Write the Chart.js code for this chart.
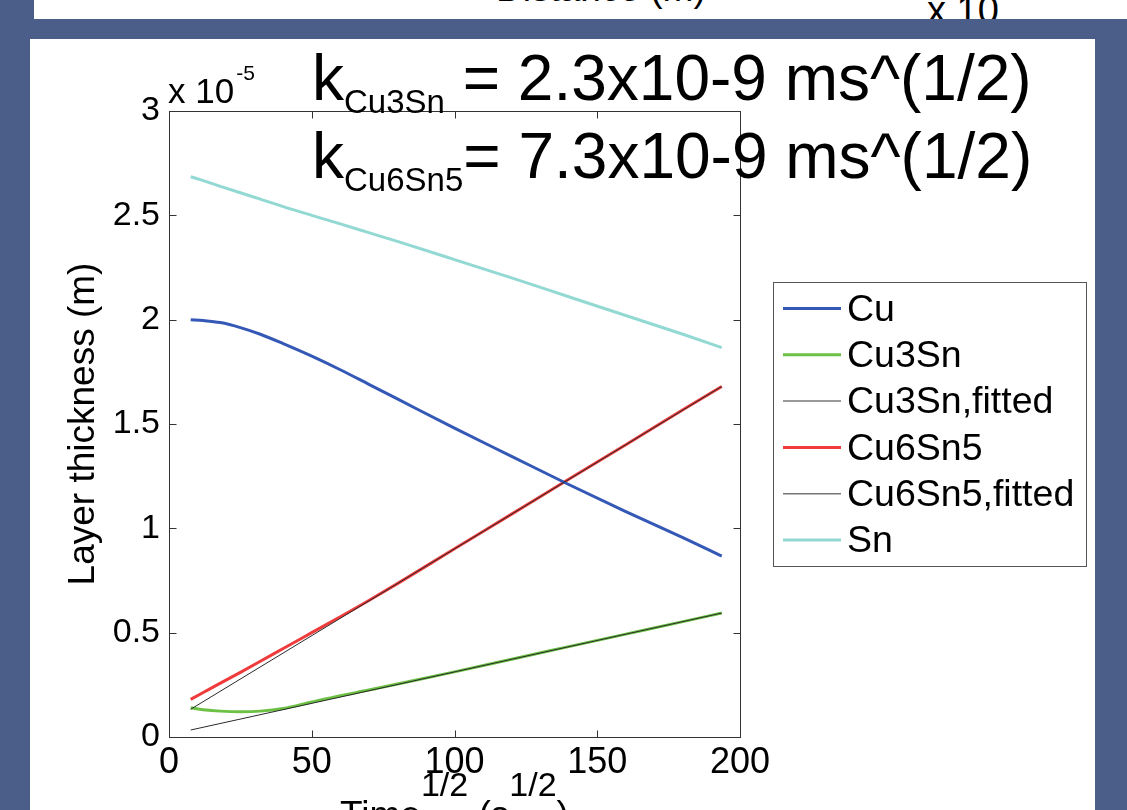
<!DOCTYPE html>
<html>
<head>
<meta charset="utf-8">
<script src="https://cdn.jsdelivr.net/npm/chart.js@4.4.1/dist/chart.umd.min.js"></script>
<style>
  html, body { margin: 0; padding: 0; }
  body {
    width: 1127px; height: 810px; position: relative; overflow: hidden;
    background: #4a5e89;
    font-family: "Liberation Sans", Arial, sans-serif;
  }
  .panel { position: absolute; background: #fff; overflow: hidden; }
  #topPanel { left: 34px; top: 0; width: 1093px; height: 19px; }
  #mainPanel { left: 30px; top: 39px; width: 1065px; height: 771px; }
  .cut { position: absolute; white-space: nowrap; color: #000; line-height: 1; }
  #chart { position: absolute; left: 0; top: 0; }
</style>
</head>
<body>
<div class="panel" id="topPanel">
  <div class="cut" style="left:462px; top:-30px; font-size:37px;">Distance (m)</div>
  <div class="cut" style="left:893px; top:-9px; font-size:38px;">x 10</div>
</div>
<div class="panel" id="mainPanel"></div>
<canvas id="chart" width="1127" height="810"></canvas>
<script>
// --- data (thickness in units of 1e-5 m, time in s^1/2) ---
const timeRoot = [7.6, 12, 18, 25, 32, 40, 50, 60, 70, 80, 100, 120, 140, 160, 180, 193.6];
const cuThickness     = [2.00, 1.996, 1.986, 1.962, 1.93, 1.885, 1.825, 1.76, 1.69, 1.62, 1.48, 1.345, 1.21, 1.08, 0.955, 0.867];
const cu3snThickness  = [0.14, 0.131, 0.124, 0.121, 0.124, 0.137, 0.168, 0.198, 0.225, 0.254, 0.312, 0.373, 0.433, 0.493, 0.553, 0.594];
const cu6sn5Thickness = [0.18, 0.213, 0.258, 0.31, 0.363, 0.424, 0.50, 0.576, 0.654, 0.735, 0.902, 1.068, 1.235, 1.401, 1.568, 1.68];
const snThickness     = [2.685, 2.666, 2.639, 2.608, 2.578, 2.542, 2.50, 2.459, 2.417, 2.375, 2.288, 2.20, 2.11, 2.02, 1.93, 1.866];
const fitTime   = [7.6, 193.6];
const cu3snFit  = [0.0335, 0.594];
const cu6sn5Fit = [0.133, 1.68];

const xTicks = [0, 50, 100, 150, 200];
const yTicks = [0, 0.5, 1, 1.5, 2, 2.5, 3];

const seriesNames = ["Cu", "Cu3Sn", "Cu3Sn,fitted", "Cu6Sn5", "Cu6Sn5,fitted", "Sn"];
const seriesColors = ["#3458b6", "#6cc144", "#2a2a2a", "#ef3b3b", "#2a2a2a", "#93d9d3"];

const FONT = '"Liberation Sans", Arial, sans-serif';

function toPoints(xs, ys) {
  return xs.map((x, i) => ({ x: x, y: ys[i] }));
}

function lineSet(i, xs, ys, fitted) {
  return {
    label: seriesNames[i],
    data: toPoints(xs, ys),
    borderColor: seriesColors[i],
    borderWidth: fitted ? 1 : 3,
    pointRadius: 0,
    fill: false,
    cubicInterpolationMode: "monotone",
    order: fitted ? 0 : 1,
  };
}

// box with inward ticks, axis captions, k-values and the legend
const decorations = {
  id: "decorations",
  afterDatasetsDraw(chart) {
    const ctx = chart.ctx;
    const a = chart.chartArea;
    const xs = chart.scales.x;
    const ys = chart.scales.y;
    const L = Math.round(a.left) + 0.5, R = Math.round(a.right) + 0.5;
    const T = Math.round(a.top) + 0.5, B = Math.round(a.bottom) + 0.5;

    ctx.save();
    ctx.strokeStyle = "#333";
    ctx.lineWidth = 1;
    ctx.strokeRect(L, T, R - L, B - T);
    const tl = 7;
    ctx.beginPath();
    xTicks.forEach((v) => {
      const px = Math.round(xs.getPixelForValue(v)) + 0.5;
      ctx.moveTo(px, B); ctx.lineTo(px, B - tl);
      ctx.moveTo(px, T); ctx.lineTo(px, T + tl);
    });
    yTicks.forEach((v) => {
      const py = Math.round(ys.getPixelForValue(v)) + 0.5;
      ctx.moveTo(L, py); ctx.lineTo(L + tl, py);
      ctx.moveTo(R, py); ctx.lineTo(R - tl, py);
    });
    ctx.stroke();

    ctx.fillStyle = "#000";
    ctx.textBaseline = "alphabetic";
    ctx.textAlign = "left";

    // exponent over the y axis
    ctx.font = "35px " + FONT;
    ctx.fillText("x 10", 168, 103);
    const w10 = ctx.measureText("x 10").width;
    ctx.font = "21px " + FONT;
    ctx.fillText("-5", 168 + w10 + 2, 80);

    // y axis title
    ctx.save();
    ctx.translate(94, (a.top + a.bottom) / 2);
    ctx.rotate(-Math.PI / 2);
    ctx.textAlign = "center";
    ctx.font = "37px " + FONT;
    ctx.fillText("Layer thickness (m)", 0, 0);
    ctx.restore();

    // x axis title with superscripts
    const parts = [
      ["Time", 37, 0], ["1/2", 34, -31], [" (s", 37, 0], ["1/2", 34, -31], [")", 37, 0],
    ];
    let total = 0;
    parts.forEach((p) => { ctx.font = p[1] + "px " + FONT; total += ctx.measureText(p[0]).width; });
    let cx = (a.left + a.right) / 2 - total / 2;
    parts.forEach((p) => {
      ctx.font = p[1] + "px " + FONT;
      ctx.fillText(p[0], cx, 827 + p[2]);
      cx += ctx.measureText(p[0]).width;
    });

    // rate constants
    const kLines = [
      { sub: "Cu3Sn", rest: " = 2.3x10-9 ms^(1/2)", base: 100 },
      { sub: "Cu6Sn5", rest: "= 7.3x10-9 ms^(1/2)", base: 178 },
    ];
    kLines.forEach((k) => {
      let x = 312;
      ctx.font = "64px " + FONT;
      ctx.fillText("k", x, k.base);
      x += ctx.measureText("k").width;
      ctx.font = "33px " + FONT;
      ctx.fillText(k.sub, x, k.base + 13);
      x += ctx.measureText(k.sub).width;
      ctx.font = "64px " + FONT;
      ctx.fillText(k.rest, x, k.base);
    });

    // legend
    const lx = 773.5, ly = 282.5, lw = 313, lh = 284;
    ctx.fillStyle = "#fff";
    ctx.fillRect(lx, ly, lw, lh);
    ctx.strokeStyle = "#555";
    ctx.lineWidth = 1;
    ctx.strokeRect(lx, ly, lw, lh);
    ctx.font = "37.5px " + FONT;
    ctx.textBaseline = "middle";
    chart.data.datasets.forEach((ds, i) => {
      const y = 308.5 + i * 46.3;
      ctx.strokeStyle = ds.borderWidth > 2 ? ds.borderColor : "#777";
      ctx.lineWidth = ds.borderWidth > 2 ? 3 : 1.5;
      ctx.beginPath();
      ctx.moveTo(783, y);
      ctx.lineTo(841, y);
      ctx.stroke();
      ctx.fillStyle = "#000";
      ctx.fillText(ds.label, 847, y + 2);
    });
    ctx.restore();
  },
};

const tickFont = (size) => ({ family: FONT, size: size });

new Chart(document.getElementById("chart"), {
  type: "line",
  data: {
    datasets: [
      lineSet(0, timeRoot, cuThickness, false),
      lineSet(1, timeRoot, cu3snThickness, false),
      lineSet(2, fitTime, cu3snFit, true),
      lineSet(3, timeRoot, cu6sn5Thickness, false),
      lineSet(4, fitTime, cu6sn5Fit, true),
      lineSet(5, timeRoot, snThickness, false),
    ],
  },
  options: {
    responsive: false,
    animation: false,
    parsing: false,
    layout: { padding: { left: 69, top: 111, right: 387, bottom: 0 } },
    plugins: { legend: { display: false }, tooltip: { enabled: false } },
    scales: {
      x: {
        type: "linear",
        min: 0,
        max: 200,
        afterBuildTicks: (axis) => { axis.ticks = xTicks.map((v) => ({ value: v })); },
        afterFit: (axis) => { axis.height = 73; },
        grid: { display: false, drawTicks: false },
        border: { display: false },
        ticks: { color: "#000", font: tickFont(36), padding: 4, maxRotation: 0, autoSkip: false },
      },
      y: {
        type: "linear",
        min: 0,
        max: 3,
        afterBuildTicks: (axis) => { axis.ticks = yTicks.map((v) => ({ value: v })); },
        afterFit: (axis) => { axis.width = 100; },
        grid: { display: false, drawTicks: false },
        border: { display: false },
        ticks: { color: "#000", font: tickFont(34), padding: 9, autoSkip: false, callback: (v) => String(v) },
      },
    },
  },
  plugins: [decorations],
});
</script>
</body>
</html>
